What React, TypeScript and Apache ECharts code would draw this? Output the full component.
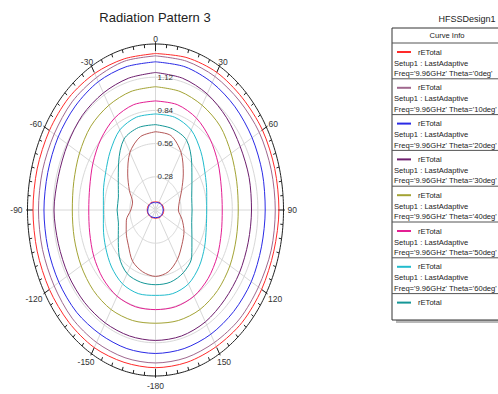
import React, { useEffect, useRef } from "react";
import * as echarts from "echarts";

// Phi angles (deg, clockwise from top) at which the traces are sampled
const phiDeg = [0, 15, 30, 45, 60, 75, 90, 105, 120, 135, 150, 165, 180, 195, 210, 225, 240, 255, 270, 285, 300, 315, 330, 345];

// rETotal traces
const theta0 = [1.32, 1.33, 1.34, 1.34, 1.35, 1.35, 1.35, 1.34, 1.34, 1.34, 1.33, 1.33, 1.33, 1.33, 1.34, 1.34, 1.34, 1.34, 1.34, 1.34, 1.34, 1.34, 1.33, 1.32];
const theta10 = [1.3, 1.3, 1.3, 1.3, 1.31, 1.31, 1.31, 1.31, 1.3, 1.3, 1.29, 1.29, 1.29, 1.29, 1.29, 1.29, 1.28, 1.28, 1.28, 1.28, 1.28, 1.29, 1.29, 1.3];
const theta20 = [1.25, 1.25, 1.24, 1.23, 1.22, 1.21, 1.2, 1.2, 1.21, 1.21, 1.21, 1.21, 1.21, 1.21, 1.21, 1.22, 1.22, 1.22, 1.22, 1.22, 1.23, 1.24, 1.25, 1.25];
const theta30 = [1.16, 1.15, 1.13, 1.1, 1.07, 1.06, 1.05, 1.05, 1.06, 1.07, 1.09, 1.1, 1.1, 1.1, 1.1, 1.1, 1.1, 1.1, 1.11, 1.1, 1.11, 1.13, 1.14, 1.15];
const theta40 = [1.04, 1.035, 1.02, 1.0, 0.955, 0.92, 0.905, 0.915, 0.94, 0.96, 0.97, 0.965, 0.955, 0.965, 0.97, 0.96, 0.94, 0.92, 0.91, 0.925, 0.96, 1.0, 1.02, 1.035];
const theta50 = [0.92, 0.92, 0.895, 0.845, 0.79, 0.745, 0.73, 0.745, 0.78, 0.815, 0.84, 0.845, 0.84, 0.845, 0.84, 0.815, 0.78, 0.745, 0.73, 0.745, 0.79, 0.845, 0.895, 0.92];
const theta60 = [0.81, 0.81, 0.78, 0.7, 0.625, 0.58, 0.56, 0.575, 0.62, 0.675, 0.72, 0.73, 0.72, 0.73, 0.72, 0.68, 0.63, 0.59, 0.57, 0.59, 0.63, 0.7, 0.78, 0.81];
const trace8 = [0.72, 0.71, 0.68, 0.56, 0.46, 0.41, 0.4, 0.41, 0.46, 0.56, 0.61, 0.63, 0.63, 0.63, 0.62, 0.56, 0.47, 0.42, 0.42, 0.42, 0.47, 0.57, 0.69, 0.72];
const trace9 = [0.66, 0.65, 0.56, 0.43, 0.33, 0.27, 0.25, 0.3, 0.36, 0.41, 0.48, 0.54, 0.56, 0.54, 0.5, 0.42, 0.37, 0.33, 0.27, 0.26, 0.33, 0.43, 0.56, 0.64];
const centerA = [0.07, 0.07, 0.075, 0.08, 0.085, 0.09, 0.09, 0.09, 0.085, 0.08, 0.075, 0.07, 0.07, 0.07, 0.075, 0.08, 0.085, 0.09, 0.09, 0.09, 0.085, 0.08, 0.075, 0.07];
const centerB = [0.06, 0.065, 0.07, 0.075, 0.08, 0.08, 0.085, 0.08, 0.08, 0.075, 0.07, 0.065, 0.065, 0.065, 0.07, 0.075, 0.08, 0.085, 0.085, 0.08, 0.08, 0.075, 0.07, 0.065];

const traceColors = ["#ff2a2a", "#a0688e", "#2a2ae6", "#6e1f6e", "#a3a334", "#e41f93", "#22bccd", "#159797", "#b45858"];
const traceData = [theta0, theta10, theta20, theta30, theta40, theta50, theta60, trace8, trace9];
const thetaLabels = ["0deg", "10deg", "20deg", "30deg", "40deg", "50deg", "60deg"];

// Axes
const rMax = 1.4;
const gridRadii = [0.28, 0.56, 0.84, 1.12];
const radialLabels = ["0.28", "0.56", "0.84", "1.12"];
const spokeAngles = [0, 30, 60, 90, 120, 150, 180, 210, 240, 270, 300, 330];
const angleLabels = ["0", "30", "60", "90", "120", "150", "-180", "-150", "-120", "-90", "-60", "-30"];

const FONT = "'Liberation Sans', Arial, sans-serif";

const toXY = (r: number, deg: number) => {
  const t = (deg * Math.PI) / 180;
  return [r * Math.sin(t), r * Math.cos(t)];
};
const loop = (rs: number[]) => {
  const pts = rs.map((r, i) => toXY(r, phiDeg[i]));
  pts.push(pts[0]);
  return pts;
};

export default function App() {
  const ref = useRef<HTMLDivElement>(null);
  useEffect(() => {
    if (!ref.current) return;
    const chart = echarts.init(ref.current, undefined, { renderer: "svg" });

    const frameSeries: any = {
      type: "custom",
      coordinateSystem: "cartesian2d",
      silent: true,
      z: 1,
      data: [[0, 0]],
      renderItem: (_p: any, api: any) => {
        const children: any[] = [];
        const ell = (r: number, step: number) => {
          const pts: number[][] = [];
          for (let a = 0; a <= 360; a += step) pts.push(api.coord(toXY(r, a)));
          return pts;
        };
        gridRadii.forEach((r) =>
          children.push({ type: "polyline", shape: { points: ell(r, 2) }, style: { stroke: "#d8d8d8", lineWidth: 1, fill: "none" } })
        );
        const c = api.coord([0, 0]);
        spokeAngles.forEach((a) => {
          const p = api.coord(toXY(rMax, a));
          children.push({ type: "line", shape: { x1: c[0], y1: c[1], x2: p[0], y2: p[1] }, style: { stroke: "#d8d8d8", lineWidth: 1 } });
        });
        children.push({ type: "polyline", shape: { points: ell(rMax, 1) }, style: { stroke: "#222", lineWidth: 1, fill: "none" } });
        for (let a = 0; a < 360; a += 5) {
          const major = a % 30 === 0;
          const p1 = api.coord(toXY(major ? rMax + 0.015 : rMax, a));
          const p2 = api.coord(toXY(rMax - (major ? 0.06 : 0.03), a));
          children.push({ type: "line", shape: { x1: p1[0], y1: p1[1], x2: p2[0], y2: p2[1] }, style: { stroke: "#222", lineWidth: 1 } });
        }
        return { type: "group", children };
      },
    };

    const labelSeries: any = {
      type: "custom",
      coordinateSystem: "cartesian2d",
      silent: true,
      z: 5,
      data: [[0, 0]],
      renderItem: (_p: any, api: any) => {
        const children: any[] = [];
        const c = api.coord([0, 0]);
        spokeAngles.forEach((a, i) => {
          const p = api.coord(toXY(rMax, a));
          let dx = p[0] - c[0];
          let dy = p[1] - c[1];
          const L = Math.hypot(dx, dy);
          dx /= L;
          dy /= L;
          const txt = angleLabels[i];
          const w = txt.length * 4.7;
          const h = 9;
          children.push({
            type: "text",
            x: p[0] + dx * (w / 2 + 4),
            y: p[1] + dy * (h / 2 + (dy > 0 ? 5 : 0.5)),
            style: { text: txt, fill: "#333", fontSize: 8.5, fontFamily: FONT, align: "center", verticalAlign: "middle" },
          });
        });
        gridRadii.forEach((r, i) => {
          const p = api.coord([0, r]);
          children.push({
            type: "text",
            x: p[0] + 2,
            y: p[1],
            style: { text: radialLabels[i], fill: "#333", fontSize: 8, fontFamily: FONT, align: "left", verticalAlign: "middle" },
          });
        });
        return { type: "group", children };
      },
    };

    const lineSeries: any[] = traceData.map((d, i) => ({
      type: "line",
      name: "rETotal " + i,
      data: loop(d),
      showSymbol: false,
      smooth: 0.3,
      z: 3,
      lineStyle: { color: traceColors[i], width: 1 },
      itemStyle: { color: traceColors[i] },
    }));
    [centerA, centerB].forEach((d, i) =>
      lineSeries.push({
        type: "line",
        name: "center " + i,
        data: loop(d),
        showSymbol: false,
        smooth: 0.3,
        z: 3,
        lineStyle: { color: i === 0 ? "#ff2a2a" : "#2a2ae6", width: 1 },
      })
    );

    // Legend box
    const legend: any[] = [];
    const bx = 392;
    const by = 28;
    const bBottom = 320;
    const lf = 7.6;
    legend.push({ type: "rect", shape: { x: bx + 4, y: bBottom, width: 120, height: 3 }, style: { fill: "#b8b8b8" } });
    legend.push({ type: "rect", shape: { x: bx, y: by, width: 120, height: bBottom - by }, style: { fill: "#fff", stroke: "#333", lineWidth: 1 } });
    legend.push({ type: "text", x: 447, y: 35.5, style: { text: "Curve Info", fill: "#222", fontSize: lf, fontFamily: FONT, align: "center", verticalAlign: "middle" } });
    for (let k = 0; k < 8; k++) {
      const y0 = 52 + 35.8 * k;
      legend.push({ type: "line", shape: { x1: bx, y1: y0 - 9, x2: bx + 120, y2: y0 - 9 }, style: { stroke: "#555", lineWidth: 1 } });
      legend.push({ type: "line", shape: { x1: 397, y1: y0, x2: 411, y2: y0 }, style: { stroke: traceColors[k], lineWidth: 2 } });
      legend.push({ type: "text", x: 418, y: y0, style: { text: "rETotal", fill: "#222", fontSize: lf, fontFamily: FONT, align: "left", verticalAlign: "middle" } });
      if (k < thetaLabels.length) {
        legend.push({ type: "text", x: 394, y: y0 + 11, style: { text: "Setup1 : LastAdaptive", fill: "#222", fontSize: lf, fontFamily: FONT, align: "left", verticalAlign: "middle" } });
        legend.push({
          type: "text",
          x: 394,
          y: y0 + 21.5,
          style: { text: "Freq='9.96GHz' Theta='" + thetaLabels[k] + "'", fill: "#222", fontSize: lf, fontFamily: FONT, align: "left", verticalAlign: "middle" },
        });
      }
    }

    chart.setOption({
      animation: false,
      backgroundColor: "#fff",
      grid: { left: 27.5, top: 44, width: 256, height: 332 },
      xAxis: { type: "value", min: -rMax, max: rMax, show: false },
      yAxis: { type: "value", min: -rMax, max: rMax, show: false },
      graphic: [
        { type: "text", x: 155, y: 17.5, style: { text: "Radiation Pattern 3", fill: "#222", fontSize: 13, fontFamily: FONT, align: "center", verticalAlign: "middle" } },
        { type: "text", x: 467, y: 19, style: { text: "HFSSDesign1", fill: "#222", fontSize: 9, fontFamily: FONT, align: "center", verticalAlign: "middle" } },
        ...legend,
      ],
      series: [frameSeries, ...lineSeries, labelSeries],
    });
    return () => chart.dispose();
  }, []);
  return <div ref={ref} style={{ position: "fixed", left: 0, top: 0, width: 498, height: 394, background: "#fff" }} />;
}
